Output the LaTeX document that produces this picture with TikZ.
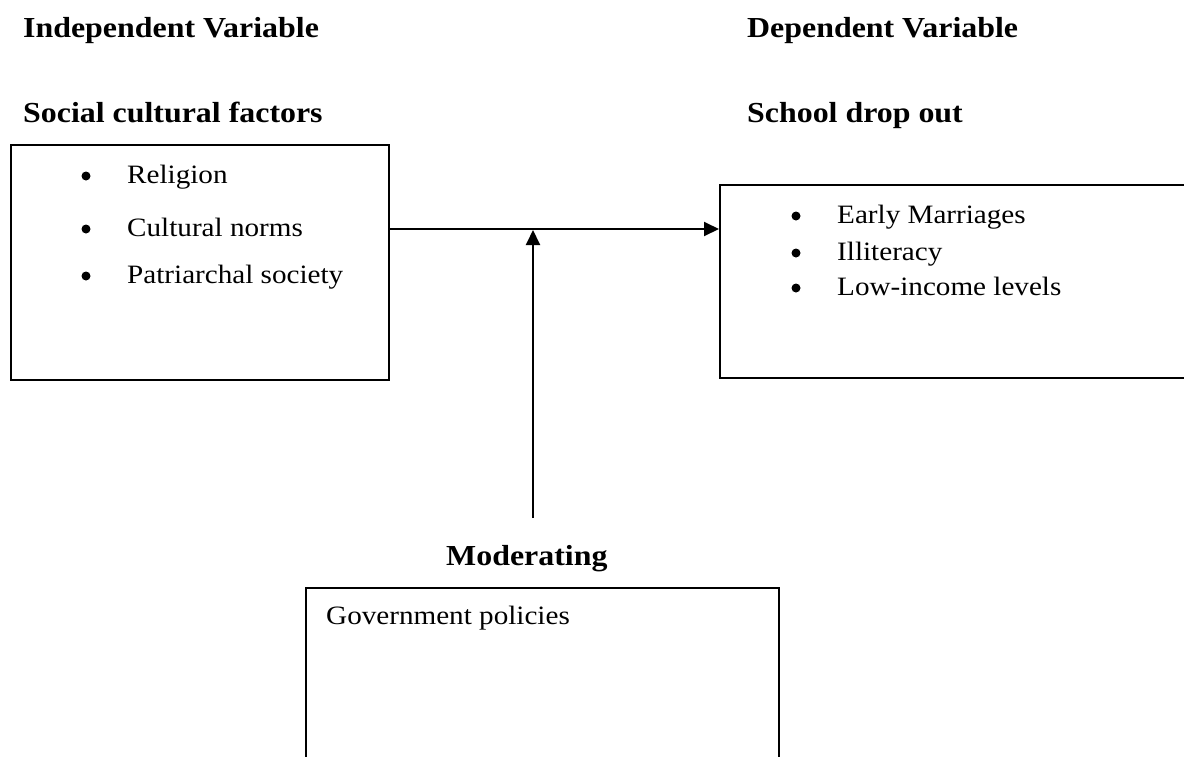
\documentclass[tikz,border=0pt]{standalone}
\usepackage{fontspec}
\setmainfont[FakeStretch=1.1]{Liberation Serif}
\usetikzlibrary{arrows.meta}
\tikzset{
 box/.style={draw, line width=1.6pt, anchor=north west, inner sep=0pt},
 hdr/.style={anchor=base west, inner sep=0pt, font=\fontsize{29}{34}\selectfont\bfseries},
 txt/.style={anchor=base west, inner sep=0pt, font=\fontsize{26.5}{32}\selectfont},
 bul/.style={circle, fill, inner sep=0pt, minimum size=9pt},
 conn/.style={line width=2pt, -{Triangle[length=15pt,width=14pt]}},
}
\begin{document}
\begin{tikzpicture}[x=1pt,y=-1pt]
\useasboundingbox (0,0) rectangle (1184,756);
\clip (0,0) rectangle (1184,756);
% headers
\node[hdr] (iv) at (23,37) {Independent Variable};
\node[hdr] (dv) at (747,37) {Dependent Variable};
\node[hdr] (scf) at (23,122) {Social cultural factors};
\node[hdr] (sdo) at (747,122) {School drop out};
\node[hdr] (modt) at (446,565) {Moderating};
% boxes
\node[box, minimum width=378pt, minimum height=235pt] (lbox) at (10,144) {};
\node[box, minimum width=490pt, minimum height=193pt] (rbox) at (719,184) {};
\node[box, minimum width=473pt, minimum height=230pt] (bbox) at (305,587) {};
% left items
\node[bul] (lb1) at (86,176) {};
\node[txt] (l1) at (127,183) {Religion};
\node[bul] (lb2) at (86,229) {};
\node[txt] (l2) at (127,236) {Cultural norms};
\node[bul] (lb3) at (86,276) {};
\node[txt] (l3) at (127,283) {Patriarchal society};
% right items
\node[bul] (rb1) at (796,216) {};
\node[txt] (r1) at (837,223) {Early Marriages};
\node[bul] (rb2) at (796,253) {};
\node[txt] (r2) at (837,260) {Illiteracy};
\node[bul] (rb3) at (796,288) {};
\node[txt] (r3) at (837,295) {Low-income levels};
% bottom text
\node[txt] (g1) at (326,624) {Government policies};
% connectors
\coordinate (modfoot) at (533,518);
\coordinate (join) at (533,230);
\draw[conn] (lbox.east |- 0,229) -- (rbox.west |- 0,229);
\draw[conn] (modfoot) -- (join);
\end{tikzpicture}
\end{document}
